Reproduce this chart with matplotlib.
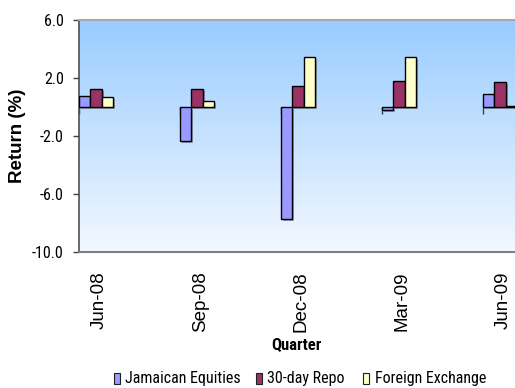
import numpy as np
import matplotlib
matplotlib.use("Agg")
import matplotlib.pyplot as plt
from matplotlib.colors import LinearSegmentedColormap
from matplotlib.patches import Rectangle
from matplotlib.transforms import offset_copy

# Quarterly returns by asset class (%)
quarters = ["Jun-08", "Sep-08", "Dec-08", "Mar-09", "Jun-09"]
series_names = ["Jamaican Equities", "30-day Repo", "Foreign Exchange"]
equities = [0.78, -2.37, -7.72, -0.20, 0.90]
repo = [1.24, 1.24, 1.47, 1.81, 1.70]
fx = [0.67, 0.43, 3.47, 3.47, 0.10]
y_ticks = [-10.0, -6.0, -2.0, 2.0, 6.0]

colors = ["#9999FF", "#993366", "#FFFFCC"]
narrow = ["Roboto Condensed", "Liberation Sans", "DejaVu Sans"]
regular = ["Liberation Sans", "DejaVu Sans"]

W, H = 515, 388
fig = plt.figure(figsize=(W / 100, H / 100), dpi=100)
fig.patch.set_facecolor("white")

# plot area (extends past the right edge of the canvas)
ax = fig.add_axes([79 / W, 1 - 252 / H, 505 / W, 232 / H])
ymin, ymax = -10.0, 6.0

# vertical gradient background
cmap = LinearSegmentedColormap.from_list("bg", ["#F3F8FF", "#99CCFF"])
grad = np.linspace(0, 1, 256).reshape(-1, 1)
ax.imshow(grad, cmap=cmap, aspect="auto", extent=[0, 1, 0, 1],
          transform=ax.transAxes, origin="lower", zorder=0)

n = len(quarters)
x = np.arange(n)
bw = 0.112
shadow_tr = offset_copy(ax.transData, fig=fig, x=2, y=-2, units="dots")
for s, vals in enumerate([equities, repo, fx]):
    xs = x + s * bw
    ax.bar(xs, vals, width=bw, align="edge", color="#606060", alpha=0.55,
           linewidth=0, transform=shadow_tr, zorder=2)
    ax.bar(xs, vals, width=bw, align="edge", color=colors[s],
           edgecolor="black", linewidth=1.0, zorder=3)

ax.set_xlim(0, n)
ax.set_ylim(ymin, ymax)

# y axis
ax.set_yticks(y_ticks)
ax.set_yticklabels([f"{v:.1f}" for v in y_ticks], fontfamily=narrow, fontsize=11.5)
ax.tick_params(axis="y", direction="out", length=4, width=1, color="#404040",
               pad=7, labelcolor="black")

# category labels along the bottom
ax.set_xticks(x + 0.2)
ax.set_xticklabels(quarters, rotation=90, fontfamily=regular, fontsize=13.5)
ax.tick_params(axis="x", length=0, pad=14)

ax.spines["right"].set_visible(False)
ax.spines["left"].set_color("#505050")
ax.spines["left"].set_linewidth(1.2)
ax.spines["top"].set_color("#A8A8A8")
ax.spines["top"].set_linewidth(1.5)
ax.spines["bottom"].set_color("#808080")
ax.spines["bottom"].set_linewidth(1.5)

# category axis line crossing at zero with boundary ticks
zero_frac = (0 - ymin) / (ymax - ymin)
sec = ax.secondary_xaxis(zero_frac)
sec.set_xticks(x)
sec.tick_params(axis="x", direction="out", length=5, width=1, color="#404040",
                labelbottom=False, labeltop=False, bottom=True, top=False)
sec.spines["bottom"].set_color("#70787F")
sec.spines["bottom"].set_linewidth(1.6)
sec.spines["top"].set_visible(False)

# axis titles
fig.text(17.5 / W, 1 - 136 / H, "Return (%)", rotation=90, ha="center", va="center",
         fontfamily=regular, fontweight="bold", fontsize=13.5)
fig.text(296 / W, 1 - 345 / H, "Quarter", ha="center", va="center",
         fontfamily=narrow, fontweight="bold", fontsize=12)

# legend
legend_x = [(114, 125), (256, 267), (363, 375)]
for (bx, tx), name, c in zip(legend_x, series_names, colors):
    fig.patches.append(Rectangle((bx / W, 1 - 384 / H), 6 / W, 11 / H,
                                 transform=fig.transFigure, facecolor=c,
                                 edgecolor="#202020", linewidth=0.8))
    fig.text(tx / W, 1 - 378.5 / H, name, ha="left", va="center",
             fontfamily=narrow, fontsize=11.5)

fig.savefig("out.png", dpi=100)
